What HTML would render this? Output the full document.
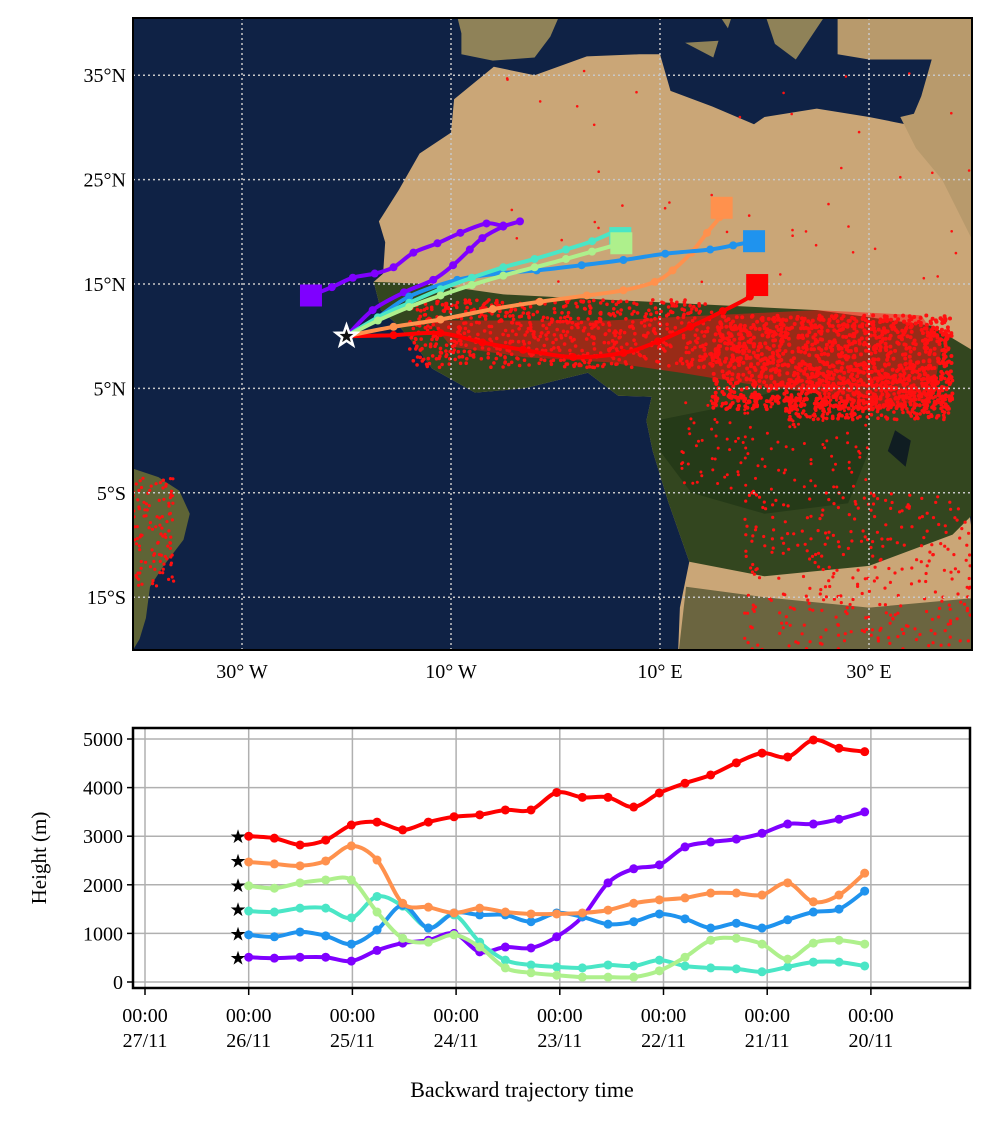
<!DOCTYPE html>
<html><head><meta charset="utf-8"><style>
html,body{margin:0;padding:0;background:#fff;}
svg{display:block;font-family:"Liberation Serif",serif;}
</style></head><body>
<svg id="fig" width="992" height="1123" viewBox="0 0 992 1123" xmlns="http://www.w3.org/2000/svg">
<defs>
<clipPath id="mapclip"><rect x="133" y="18" width="839" height="632"/></clipPath>
<clipPath id="plotclip"><rect x="133" y="728" width="837" height="260"/></clipPath>
</defs>
<g id="map" clip-path="url(#mapclip)">
<rect x="133" y="18" width="839" height="632" fill="#0f2245"/>
<g id="land"></g>
<g id="fires"></g>
<g id="mapgrid"></g>
<g id="traj"></g>
</g>
<rect x="133" y="18" width="839" height="632" fill="none" stroke="#000" stroke-width="2"/>
<g id="maplabels" font-size="20" fill="#000"></g>

<g id="chart">
<rect x="133" y="728" width="837" height="260" fill="#fff"/>
<g id="cgrid"></g>
<g id="series" clip-path="url(#plotclip)"></g>
<g id="stars"></g>
<rect x="133" y="728" width="837" height="260" fill="none" stroke="#000" stroke-width="2.5"/>
<g id="caxes" font-size="20" fill="#000"></g>
<text x="46" y="858" font-size="21" text-anchor="middle" transform="rotate(-90 46 858)">Height (m)</text>
<text x="522" y="1097" font-size="22" text-anchor="middle">Backward trajectory time</text>
</g>
</svg>
<script>
const NS="http://www.w3.org/2000/svg";
// ---- chart data ----
const xTickDays=[0,1,2,3,4,5,6,7];
const xTickTimes=["00:00","00:00","00:00","00:00","00:00","00:00","00:00","00:00"];
const xTickDates=["27/11","26/11","25/11","24/11","23/11","22/11","21/11","20/11"];
const yTicks=[0,1000,2000,3000,4000,5000];
const seriesNames=["red","purple","orange","blue","turquoise","lightgreen"];
const seriesColors=["#ff0000","#7f00ff","#ff914d","#1f93ee","#4ae6c6","#aef08c"];
const startHeights=[3000,500,2500,1000,1500,2000];
const redH=[3000,2960,2820,2920,3230,3290,3130,3290,3400,3440,3540,3540,3900,3800,3800,3600,3890,4090,4260,4510,4710,4630,4980,4810,4740];
const purpleH=[510,490,510,510,430,650,800,860,1000,620,720,700,930,1340,2040,2330,2410,2780,2880,2940,3060,3250,3250,3350,3500];
const orangeH=[2470,2430,2390,2490,2800,2510,1620,1540,1420,1520,1440,1400,1400,1420,1480,1620,1690,1730,1830,1830,1790,2040,1650,1790,2240];
const blueH=[970,930,1030,950,780,1070,1580,1110,1420,1380,1380,1240,1420,1340,1190,1240,1400,1300,1110,1210,1110,1280,1440,1500,1870];
const turqH=[1460,1440,1520,1520,1320,1760,1560,1110,1380,820,450,350,310,290,350,330,450,330,290,270,210,310,410,410,330];
const greenH=[1980,1930,2040,2100,2100,1440,900,820,970,720,290,190,140,100,100,100,230,510,860,900,780,470,800,860,780];
const stepDays=0.2475;
// ---- map data (lon, lat) ----
const redLon=[-20,-15.5,-11,-7,-3.1,1.7,6.5,9.8,12.9,16,18.6,19.3];
const redLat=[10,10.1,10.3,9.4,8.7,8.0,8.4,9.5,10.9,12.4,13.8,14.9];
const purpleLon=[-20,-17.5,-14.5,-11.7,-9.8,-8.2,-7,-5,-3.4,-5,-6.6,-9.1,-11.3,-13.6,-15.5,-17.3,-19.4,-21.4,-23.4];
const purpleLat=[10,12.5,14.2,15.4,16.8,18.3,19.4,20.5,21,20.6,20.8,19.9,18.9,18,16.6,16,15.6,14.7,13.9];
const orangeLon=[-20,-15.5,-11,-6,-1.5,3,6.5,9.5,11.2,13,14.5,15.7,15.9];
const orangeLat=[10,10.9,11.6,12.6,13.3,13.9,14.4,15.2,16.3,18,19.9,21.4,22.3];
const blueLon=[-20,-17,-14,-9.4,-5.5,-1.8,2.5,6.5,10.5,14.8,17,19];
const blueLat=[10,11.8,13.8,15.4,16,16.3,16.8,17.3,17.9,18.3,18.7,19.1];
const turqLon=[-20,-17,-14,-11,-8,-5,-2,1,3.5,5.8,6.2];
const turqLat=[10,11.8,13.2,14.5,15.6,16.6,17.4,18.3,19.1,20,19.4];
const greenLon=[-20,-17,-14,-11,-8,-5,-2,1,3.5,6.3];
const greenLat=[10,11.5,12.8,13.9,14.9,15.8,16.6,17.4,18.1,18.9];
const latTicks=[35,25,15,5,-5,-15];
const latLabels=["35°N","25°N","15°N","5°N","5°S","15°S"];
const lonTicks=[-30,-10,10,30];
const lonLabels=["30° W","10° W","10° E","30° E"];

function mx(lon){return 242+(lon+30)*10.45;}
function my(lat){return 284-(lat-15)*10.44;}
function cx(d){return 145+d*103.7;}
function cy(h){return 982-h*0.0486;}
function el(tag,attrs,parent){const e=document.createElementNS(NS,tag);for(const k in attrs)e.setAttribute(k,attrs[k]);parent.appendChild(e);return e;}
function smooth(pts){let d="M"+pts[0][0]+","+pts[0][1];for(let i=0;i<pts.length-1;i++){const p0=pts[i-1]||pts[i],p1=pts[i],p2=pts[i+1],p3=pts[i+2]||p2;
const c1=[p1[0]+(p2[0]-p0[0])/6,p1[1]+(p2[1]-p0[1])/6],c2=[p2[0]-(p3[0]-p1[0])/6,p2[1]-(p3[1]-p1[1])/6];
d+=" C"+c1[0].toFixed(1)+","+c1[1].toFixed(1)+" "+c2[0].toFixed(1)+","+c2[1].toFixed(1)+" "+p2[0].toFixed(1)+","+p2[1].toFixed(1);}return d;}
function poly(arr){return arr.map(p=>mx(p[0]).toFixed(1)+","+my(p[1]).toFixed(1)).join(" ");}

// ---- land ----
const land=document.getElementById("land");
const africa=[[-5.9,35.8],[-9.7,32.7],[-10,29.5],[-13,27.5],[-15,24],[-16.9,21],[-16.3,19],[-16.5,16],[-17.4,15.2],[-16.7,12.5],[-15,11],[-13.3,9],[-11.8,6.9],[-7.7,4.6],[-3,5],[3.1,6.5],[6,4.3],[9.2,4.2],[8.7,1.9],[9.3,-1],[10.8,-5.9],[12.8,-11.6],[11.9,-16],[11.7,-21],[41,-21],[41,-15],[40,-10],[39.5,-6],[41,-2],[41,11],[43,12],[43,18],[41,28],[35,30],[32.5,30.5],[30,31],[25,31.8],[20,31],[19,30.3],[15,32],[11,33.5],[10,37],[8,37],[3,36.8],[-2,35]];
el("polygon",{points:poly(africa),fill:"#caa677",},land);
el("polygon",{points:poly([[-17.4,15.2],[-16.7,12.5],[-15,11],[-13.3,9],[-11.8,6.9],[-7.7,4.6],[-3,5],[3.1,6.5],[6,4.3],[9.2,4.2],[8.7,1.9],[9.3,-1],[10.8,-5.9],[12.8,-11.6],[20,-13],[30,-12],[38,-9],[41,-6],[41,8],[36,11],[25,12.5],[15,13],[5,13.5],[-5,14],[-12,15]]),fill:"#33461f",},land);
el("polygon",{points:poly([[10,-1],[13,-5],[20,-7],[28,-6],[30,-1],[30,4],[22,5],[15,3],[10,2]]),fill:"#253a18",},land);
el("polygon",{points:poly([[12.5,-14],[20,-15],[30,-16],[41,-15],[41,-21],[11.7,-21]]),fill:"#6b6540",},land);
el("polygon",{points:poly([[-9.5,41],[-9,39],[-9,37],[-6,36.4],[-2,36.7],[-0.5,38.7],[0.5,41]]),fill:"#8f8258",},land);
el("polygon",{points:poly([[12.4,38.1],[15.6,38.3],[15.1,36.7]]),fill:"#8f8258",},land);
el("polygon",{points:poly([[15.5,41],[16.5,39.5],[17,41]]),fill:"#8f8258",},land);
el("polygon",{points:poly([[20,41],[21,38],[23,36.5],[24,38],[26,41]]),fill:"#8f8258",},land);
el("polygon",{points:poly([[27,41],[27,37],[30,36.5],[36,36.5],[35,33],[34.3,31.3],[33,31],[34.5,28],[37,25],[39,21],[42,15],[43,12.5],[45,13],[45,41]]),fill:"#b89a6c",},land);
el("polygon",{points:poly([[-41,-2.5],[-38,-3.5],[-36,-4.8],[-35,-7],[-35.6,-9.5],[-37.5,-12],[-38.8,-14],[-39.2,-17],[-39.8,-19],[-41,-21]]),fill:"#5e6436",},land);
el("polygon",{points:poly([[32.5,1],[34,0],[33.5,-2.5],[31.8,-1]]),fill:"#101d22",},land);

// ---- fires (decorative texture) ----
const fires=document.getElementById("fires");
let seed=12345;function rnd(){seed=(seed*1103515245+12345)%2147483648;return seed/2147483648;}
function scatter(n,lon0,lon1,lat0,lat1,r){for(let i=0;i<n;i++){const lo=lon0+rnd()*(lon1-lon0),la=lat0+rnd()*(lat1-lat0);
el("circle",{cx:mx(lo).toFixed(1),cy:my(la).toFixed(1),r:r,fill:"#ff1010"},fires);}}
el("polygon",{points:poly([[-12,11.5],[-5,11.5],[5,11.5],[15,12],[25,12.5],[35,12],[37,9],[36,4],[30,3],[25,4.5],[18,5.5],[12,6.5],[5,7.5],[-3,8],[-10,9]]),fill:"#ff1010",opacity:"0.5",},fires);
scatter(1300,15,38,3,12,2);scatter(700,-14,15,7,13.5,1.8);scatter(400,22,38,2,6,1.8);
scatter(350,18,41,-20,-5,1.6);scatter(120,12,30,-5,4,1.5);scatter(130,-41,-36.5,-14,-3.5,1.6);
scatter(45,-5,40,15,36,1.3);

// ---- map grid ----
const mg=document.getElementById("mapgrid");
latTicks.forEach(l=>el("line",{x1:133,x2:972,y1:my(l),y2:my(l),stroke:"#c8c8c8","stroke-width":1.5,"stroke-dasharray":"2,3"},mg));
lonTicks.forEach(l=>el("line",{x1:mx(l),x2:mx(l),y1:18,y2:650,stroke:"#c8c8c8","stroke-width":1.5,"stroke-dasharray":"2,3"},mg));
const ml=document.getElementById("maplabels");
latTicks.forEach((l,i)=>{const t=el("text",{x:126,y:my(l)+7,"text-anchor":"end"},ml);t.textContent=latLabels[i];

});
lonTicks.forEach((l,i)=>{const t=el("text",{x:mx(l),y:678,"text-anchor":"middle"},ml);t.textContent=lonLabels[i];

});

// ---- trajectories ----
const tr=document.getElementById("traj");
const mapSeries=[[purpleLon,purpleLat,1],[redLon,redLat,0],[orangeLon,orangeLat,2],[blueLon,blueLat,3],[turqLon,turqLat,4],[greenLon,greenLat,5]];
mapSeries.forEach(s=>{const [lo,la,ci]=s;const col=seriesColors[ci];const pts=lo.map((v,i)=>[mx(v),my(la[i])]);
const p=el("path",{d:smooth(pts),fill:"none",stroke:col,"stroke-width":4,"stroke-linejoin":"round"},tr);


pts.forEach((q,i)=>{if(i>0&&i<pts.length-1){el("circle",{cx:q[0],cy:q[1],r:4,fill:col},tr);}});
const e=pts[pts.length-1];const sq=el("rect",{x:e[0]-11,y:e[1]-11,width:22,height:22,fill:col},tr);

});
function starPts(x,y,R,r){let s=[];for(let i=0;i<10;i++){const a=-Math.PI/2+i*Math.PI/5,rr=i%2?r:R;s.push((x+rr*Math.cos(a)).toFixed(1)+","+(y+rr*Math.sin(a)).toFixed(1));}return s.join(" ");}
const st=el("polygon",{points:starPts(mx(-20),my(10),11,4.5),fill:"#111",stroke:"#fff","stroke-width":2.5},tr);



// ---- chart ----
const cg=document.getElementById("cgrid");
yTicks.forEach(v=>el("line",{x1:133,x2:970,y1:cy(v),y2:cy(v),stroke:"#b0b0b0","stroke-width":1.5},cg));
xTickDays.forEach(d=>el("line",{x1:cx(d),x2:cx(d),y1:728,y2:988,stroke:"#b0b0b0","stroke-width":1.5},cg));
const ca=document.getElementById("caxes");
yTicks.forEach(v=>{el("line",{x1:127,x2:133,y1:cy(v),y2:cy(v),stroke:"#000","stroke-width":1.5},ca);
const t=el("text",{x:123,y:cy(v)+7,"text-anchor":"end"},ca);t.textContent=v;

});
xTickDays.forEach((d,i)=>{el("line",{x1:cx(d),x2:cx(d),y1:988,y2:995,stroke:"#000","stroke-width":1.5},ca);
const t1=el("text",{x:cx(d),y:1022,"text-anchor":"middle"},ca);t1.textContent=xTickTimes[i];


const t2=el("text",{x:cx(d),y:1047,"text-anchor":"middle"},ca);t2.textContent=xTickDates[i];

});
const sg=document.getElementById("series");
const allH=[redH,purpleH,orangeH,blueH,turqH,greenH];
[1,4,3,5,2,0].forEach(ci=>{const H=allH[ci];const col=seriesColors[ci];
const pts=H.map((h,i)=>[cx(1+i*stepDays),cy(h)]);
const p=el("path",{d:smooth(pts),fill:"none",stroke:col,"stroke-width":4,"stroke-linejoin":"round"},sg);


pts.forEach(q=>{el("circle",{cx:q[0],cy:q[1],r:4.5,fill:col},sg);});});
const sgp=document.getElementById("stars");
startHeights.forEach(h=>{const s=el("text",{x:238,y:cy(h)+7,"font-size":"19","text-anchor":"middle",fill:"#000","font-family":"DejaVu Sans"},sgp);s.textContent="★";

});
</script>
</body></html>
